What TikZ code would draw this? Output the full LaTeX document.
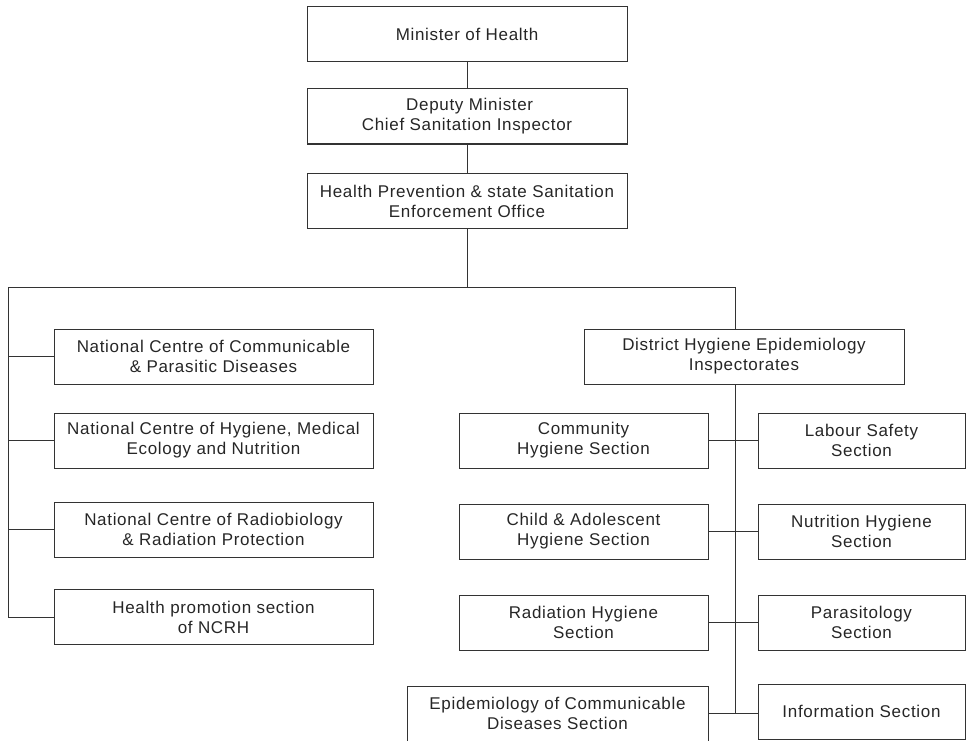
\documentclass[tikz,border=0pt]{standalone}
\usepackage{fontspec}
\setmainfont{Liberation Sans}[LetterSpace=4]

\begin{document}
\begin{tikzpicture}[x=1pt,y=-1pt,
		office/.style={draw=black!80,line width=1pt,align=center,inner sep=0pt,minimum height=55pt,text=black!85,font=\fontsize{17}{20}\selectfont},
		wide/.style={office,minimum width=320pt},
		section/.style={office,minimum width=249pt},
		small/.style={office,minimum width=207pt},
		link/.style={draw=black!80,line width=1pt}]
				\useasboundingbox (0,0) rectangle (966,741);
				% ministry
				\node[wide] (min) at (467,34.5) {Minister of Health};
				\node[wide] (dep) at (467,116.5) {\ Deputy Minister\\Chief Sanitation Inspector};
				\node[wide] (hpo) at (467,201) {Health Prevention \& state Sanitation\\Enforcement Office};
				% national centres
				\node[office,minimum width=319pt] (ncd) at (213.5,356.5) {National Centre of Communicable\\\& Parasitic Diseases};
				\node[office,minimum width=319pt] (nch) at (213.5,440.5) {National Centre of Hygiene, Medical\\Ecology and Nutrition};
				\node[office,minimum width=319pt] (ncr) at (213.5,529.5) {National Centre of Radiobiology\\\& Radiation Protection};
				\node[office,minimum width=319pt] (hps) at (213.5,617) {Health promotion section\\of NCRH};
				% district inspectorates
				\node[wide] (dhe) at (744,356.5) {District Hygiene Epidemiology\\Inspectorates};
				\node[section] (com) at (583.5,440.5) {Community\\Hygiene Section};
				\node[small] (lab) at (861.5,440.5) {Labour Safety\\Section};
				\node[section] (chi) at (583.5,531.5) {Child \& Adolescent\\Hygiene Section};
				\node[small] (nut) at (861.5,531.5) {Nutrition Hygiene\\Section};
				\node[section] (rad) at (583.5,622.5) {Radiation Hygiene\\Section};
				\node[small] (par) at (861.5,622.5) {Parasitology\\Section};
				\node[office,minimum width=301pt] (epi) at (557.5,713.5) {Epidemiology of Communicable\\Diseases Section};
				\node[small] (inf) at (861.5,711.5) {Information Section};

				\coordinate (busL) at (8,287);
				\coordinate (busR) at (735,287);

				\draw[link] (min) -- (dep);
				\draw[link] (dep) -- (hpo);
				\draw[link] (hpo.south) -- (hpo.south |- busL);
				\draw[link] (busL) -- (busR) -- (busR |- dhe.north);
				\draw[link] (busL) -- (busL |- hps.west);
				\foreach \n in {ncd,nch,ncr,hps}
					\draw[link] (\n.west) -- (busL |- \n.west);
				\draw[link] (busR |- dhe.south) -- (busR |- epi.east);
				\foreach \n in {com,chi,rad,epi}
					\draw[link] (\n.east) -- (busR |- \n.east);
				\foreach \n in {lab,nut,par}
					\draw[link] (\n.west) -- (busR |- \n.west);
				\draw[link] (inf.west |- epi.east) -- (busR |- epi.east);
			\end{tikzpicture}
\end{document}
